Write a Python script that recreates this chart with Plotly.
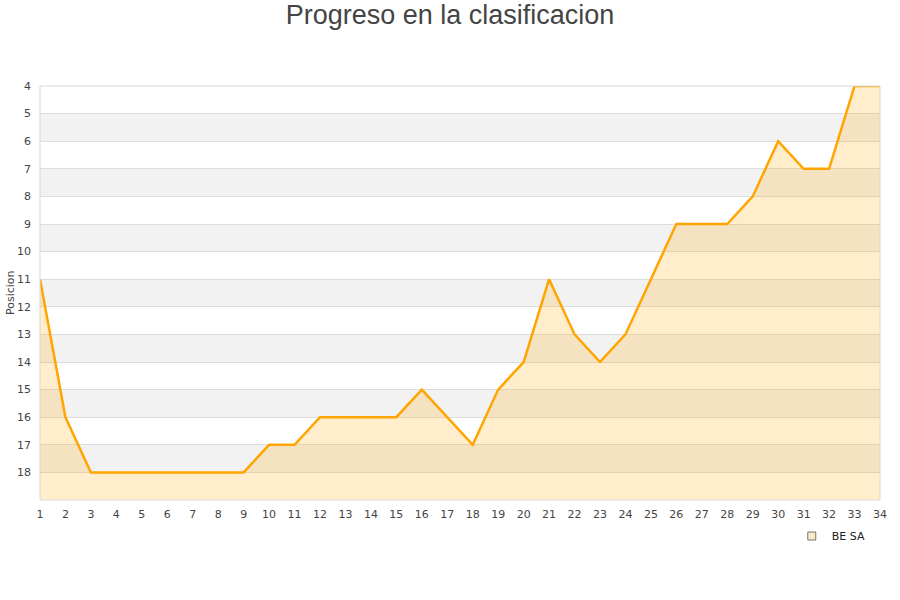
import plotly.graph_objects as go

jornadas = list(range(1, 35))
posiciones = [11, 16, 18, 18, 18, 18, 18, 18, 18, 17, 17, 16, 16, 16, 16, 15, 16, 17,
              15, 14, 11, 13, 14, 13, 11, 9, 9, 9, 8, 6, 7, 7, 4, 4]
y_ticks = list(range(4, 19))
equipo = "BE SA"
titulo = "Progreso en la clasificacion"
y_titulo = "Posicion"

W, H = 900, 600

fig = go.Figure()
fig.add_trace(go.Scatter(x=jornadas, y=[19] * len(jornadas), mode="lines",
                         line=dict(width=0), showlegend=False, hoverinfo="skip"))
fig.add_trace(go.Scatter(x=jornadas, y=posiciones, mode="lines", name=equipo,
                         line=dict(color="#FFA500", width=2.5), showlegend=False,
                         fill="tonexty", fillcolor="rgba(255,165,0,0.2)"))
fig.add_trace(go.Scatter(x=[None], y=[None], mode="markers", name=equipo,
                         marker=dict(symbol="square", size=8, color="#FFE9C4",
                                     line=dict(color="#777777", width=1))))

shapes = []
for k in range(5, 19, 2):
    shapes.append(dict(type="rect", xref="paper", yref="y", x0=0, x1=1, y0=k, y1=k + 1,
                       fillcolor="#F2F2F2", line=dict(width=0), layer="below"))
shapes.append(dict(type="rect", xref="paper", yref="paper", x0=0, x1=1, y0=0, y1=1,
                   line=dict(color="#D8D8D8", width=1), fillcolor="rgba(0,0,0,0)"))
fig.update_layout(
    width=W, height=H,
    paper_bgcolor="white", plot_bgcolor="white",
    margin=dict(l=40, r=20, t=86, b=100, autoexpand=False),
    title=dict(text=titulo, x=0.5, xanchor="center", y=1 - 15 / H, yanchor="middle",
               font=dict(family="Liberation Sans, Arial", size=27, color="#444444")),
    font=dict(family="DejaVu Sans", size=11, color="#444444"),
    shapes=shapes,
    annotations=[dict(text=y_titulo, xref="paper", yref="paper", x=-30 / 840, y=0.5,
                      xanchor="center", yanchor="middle", textangle=-90, showarrow=False,
                      font=dict(size=11, color="#444444"))],
    xaxis=dict(range=[1, 34], tickmode="array", tickvals=jornadas, showgrid=False,
               zeroline=False, showline=False, ticks="", tickfont=dict(size=11),
               ticklabelstandoff=6, automargin=False),
    yaxis=dict(range=[19, 4], tickmode="array", tickvals=y_ticks, showgrid=True,
               gridcolor="#DDDDDD", zeroline=False, showline=False, ticks="",
               ticklabelstandoff=8, automargin=False),
    legend=dict(orientation="h", x=0.989, xanchor="right", y=-36 / 414, yanchor="middle",
                font=dict(size=11, color="#222222"), bgcolor="rgba(0,0,0,0)"),
    showlegend=True,
)
fig.write_html("out.html", config={"displayModeBar": False},
               post_script="document.body.style.margin='0';")
